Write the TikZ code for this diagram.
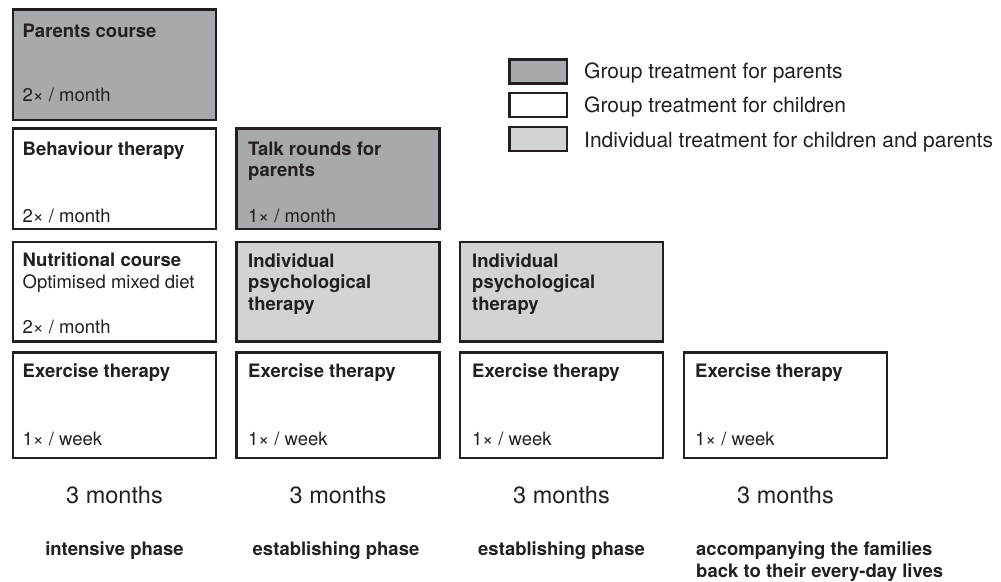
\documentclass[tikz,border=0pt]{standalone}
\usepackage{fontspec}
\setmainfont{TeX Gyre Heros}
\definecolor{parentgray}{HTML}{A7A9AC}
\definecolor{indivgray}{HTML}{D1D3D4}
\definecolor{ink}{HTML}{231F20}
\tikzstyle{box} = [draw=ink, line width=2.5pt, minimum width=203pt, minimum height=100.5pt, inner sep=0pt]
\tikzstyle{parents} = [box, fill=parentgray]
\tikzstyle{children} = [box, fill=white]
\tikzstyle{individual} = [box, fill=indivgray]
\tikzstyle{title} = [anchor=base west, inner sep=0pt, align=left, text=ink, font={\fontsize{18.5}{21.5}\selectfont\bfseries}]
\tikzstyle{freq} = [anchor=base west, inner sep=0pt, text=ink, font={\fontsize{18.5}{21.5}\selectfont}]
\tikzstyle{months} = [anchor=base, inner sep=0pt, text=ink, font={\fontsize{23.5}{28}\selectfont}]
\tikzstyle{phase} = [anchor=base, inner sep=0pt, align=left, text=ink, font={\fontsize{18.5}{22}\selectfont\bfseries}]
\tikzstyle{key} = [draw=ink, line width=2.5pt, minimum width=57.5pt, minimum height=24pt, inner sep=0pt]
\tikzstyle{keytext} = [anchor=base west, inner sep=0pt, text=ink, font={\fontsize{21}{25}\selectfont}]

\begin{document}
\begin{tikzpicture}[x=1pt,y=-1pt]
    \useasboundingbox (0,0) rectangle (1001,581);
    % intensive phase
    \node[parents,minimum height=110.5pt](pc) at (114.5,64.5){};
    \node[title](pct) at (22.5,37){Parents course};
    \node[freq](pcf) at (22.5,101){2× / month};
    \node[children](bt) at (114.5,178.5){};
    \node[title](btt) at (22.5,155){Behaviour therapy};
    \node[freq](btf) at (22.5,222){2× / month};
    \node[children,minimum height=99.5pt](nc) at (114.5,291.5){};
    \node[title](nct) at (22.5,266){Nutritional course};
    \node[freq](ncd) at (22.5,288){Optimised mixed diet};
    \node[freq](ncf) at (22.5,333){2× / month};
    \node[children,minimum height=105.5pt](et1) at (114.5,405){};
    \node[title](et1t) at (22.5,377){Exercise therapy};
    \node[freq](et1f) at (22.5,445){1× / week};
    % establishing phase
    \node[parents](tr) at (338,178.5){};
    \node[title](trt) at (248,176.5){Talk rounds for\\parents};
    \node[freq](trf) at (248,222){1× / month};
    \node[individual,minimum height=99.5pt](ip2) at (338,291.5){};
    \node[title](ip2t) at (248,310){Individual\\psychological\\therapy};
    \node[children,minimum height=105.5pt](et2) at (338,405){};
    \node[title](et2t) at (248,377){Exercise therapy};
    \node[freq](et2f) at (248,445){1× / week};
    % establishing phase
    \node[individual,minimum height=99.5pt](ip3) at (561.5,291.5){};
    \node[title](ip3t) at (472,310){Individual\\psychological\\therapy};
    \node[children,minimum height=105.5pt](et3) at (561.5,405){};
    \node[title](et3t) at (472,377){Exercise therapy};
    \node[freq](et3f) at (472,445){1× / week};
    % accompanying
    \node[children,minimum height=105.5pt](et4) at (785.5,405){};
    \node[title](et4t) at (695,377){Exercise therapy};
    \node[freq](et4f) at (695,445){1× / week};
    % durations and phases
    \node[months](m1) at (114.5,503){3 months};
    \node[months](m2) at (338,503){3 months};
    \node[months](m3) at (561.5,503){3 months};
    \node[months](m4) at (785.5,503){3 months};
    \node[phase](p1) at (114.5,555){intensive phase};
    \node[phase](p2) at (336,555){establishing phase};
    \node[phase](p3) at (561.5,555){establishing phase};
    \node[phase,anchor=base west](p4) at (696,577){accompanying the families\\back to their every-day lives};
    % legend
    \node[key,fill=parentgray](k1) at (538,71.5){};
    \node[key,fill=white](k2) at (538,105){};
    \node[key,fill=indivgray](k3) at (538,139){};
    \node[keytext](k1t) at (584,78){Group treatment for parents};
    \node[keytext](k2t) at (584,112){Group treatment for children};
    \node[keytext](k3t) at (584,147){Individual treatment for children and parents};
  \end{tikzpicture}
\end{document}
